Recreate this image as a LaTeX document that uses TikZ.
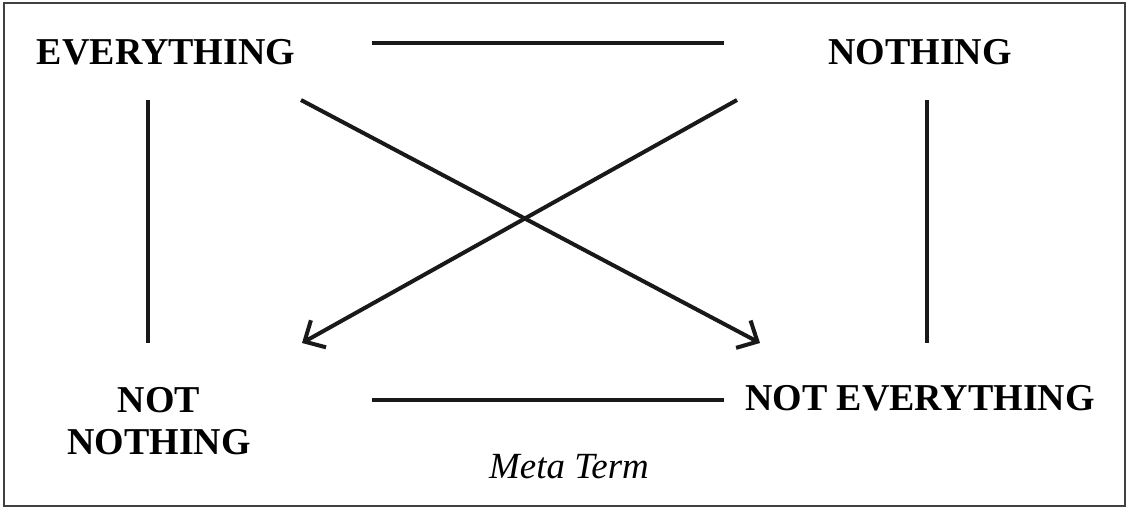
\documentclass[tikz,border=0pt]{standalone}
\usepackage{fontspec}
\setmainfont{Liberation Serif}
\usetikzlibrary{arrows.meta}
\begin{document}
\begin{tikzpicture}[x=0.02cm,y=-0.02cm,
  term/.style={font=\fontsize{21.6}{24}\selectfont\bfseries, align=center, inner sep=0pt},
  link/.style={line width=0.08cm, black!90},
  arr/.style={link, -{Straight Barb[length=0.32cm,width=0.62cm,line width=0.08cm]}},
  frame/.style={draw=black!75, line width=0.04cm}]
\useasboundingbox (0,0) rectangle (1128,509);
\draw[frame] (4,3) rectangle (1125,506);
\node[term] (ev) at (166,52) {EVERYTHING};
\node[term] (no) at (920,52) {NOTHING};
\node[term] (nn) at (159,421) {NOT\\NOTHING};
\node[term] (ne) at (920,398) {NOT EVERYTHING};
\node[font=\fontsize{21}{24}\selectfont\itshape, inner sep=0pt] (meta) at (569,467) {Meta Term};
\coordinate (t1) at (372,43);  \coordinate (t2) at (724,43);
\coordinate (b1) at (372,400); \coordinate (b2) at (724,400);
\coordinate (l1) at (148,100); \coordinate (l2) at (148,343);
\coordinate (r1) at (927,100); \coordinate (r2) at (927,343);
\coordinate (d1s) at (301,100); \coordinate (d1e) at (760,343);
\coordinate (d2s) at (737,100); \coordinate (d2e) at (302,343);
\draw[link] (t1) -- (t2);
\draw[link] (b1) -- (b2);
\draw[link] (l1) -- (l2);
\draw[link] (r1) -- (r2);
\draw[arr] (d1s) -- (d1e);
\draw[arr] (d2s) -- (d2e);
\end{tikzpicture}
\end{document}
